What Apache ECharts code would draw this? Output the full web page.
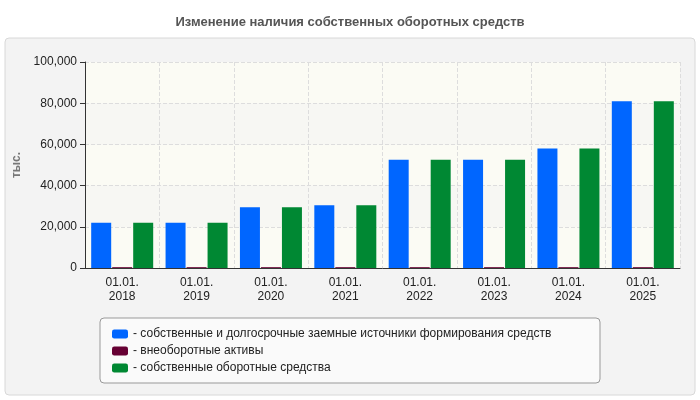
<!DOCTYPE html>
<html>
<head>
<meta charset="utf-8"/>
<title>Изменение наличия собственных оборотных средств</title>
<script src="https://cdn.jsdelivr.net/npm/echarts@6/dist/echarts.min.js"></script>
<style>
    body { margin: 0; background: #fff; }
    #main { width: 700px; height: 400px; }
</style>
</head>
<body>
<div id="main"></div>
<script>
    var categories = ['01.01.\n2018', '01.01.\n2019', '01.01.\n2020', '01.01.\n2021', '01.01.\n2022', '01.01.\n2023', '01.01.\n2024', '01.01.\n2025'];
    var ownLongTerm = [22000, 22000, 29500, 30500, 52500, 52500, 58000, 81000];
    var nonCurrent = [400, 400, 400, 400, 400, 400, 400, 400];
    var ownWorking = [22000, 22000, 29500, 30500, 52500, 52500, 58000, 81000];
    var seriesNames = [
        '- собственные и долгосрочные заемные источники формирования средств',
        '- внеоборотные активы',
        '- собственные оборотные средства'
    ];

    var chart = echarts.init(document.getElementById('main'));
    chart.setOption({
        animation: false,
        textStyle: { fontFamily: 'Liberation Sans, Arial, sans-serif' },
        graphic: [
            // серая подложка
            { type: 'rect', shape: { x: 5, y: 38, width: 690, height: 357, r: 4 },
              style: { fill: '#f3f3f3', stroke: '#d8d8d8' }, z: -10 },
            // рамка легенды
            { type: 'rect', shape: { x: 100, y: 318, width: 500, height: 65, r: 4 },
              style: { fill: '#fafafa', stroke: '#999' }, z: -5 }
        ],
        title: {
            text: 'Изменение наличия собственных оборотных средств',
            left: 'center', top: 11,
            textStyle: { fontSize: 13, fontWeight: 'bold', color: '#555' }
        },
        legend: {
            orient: 'vertical', left: 107, top: 323,
            itemWidth: 16, itemHeight: 9, itemGap: 5,
            icon: 'roundRect',
            textStyle: { fontSize: 12, color: '#222' },
            data: seriesNames
        },
        grid: { left: 85, right: 20, top: 62, bottom: 132 },
        xAxis: {
            type: 'category', data: categories,
            axisLine: { lineStyle: { color: '#333' } },
            axisTick: { alignWithLabel: false, lineStyle: { color: '#333' } },
            axisLabel: { color: '#222', fontSize: 12, lineHeight: 14, interval: 0 },
            splitLine: { show: true, interval: 0, lineStyle: { color: '#ddd', type: 'dashed' } }
        },
        yAxis: {
            type: 'value', min: 0, max: 100000, interval: 20000,
            name: 'тыс.', nameLocation: 'middle', nameGap: 62,
            nameTextStyle: { color: '#777', fontSize: 12, fontWeight: 'bold' },
            axisLine: { show: true, lineStyle: { color: '#333' } },
            axisTick: { show: true, lineStyle: { color: '#333' } },
            axisLabel: { color: '#222', fontSize: 12 },
            splitLine: { lineStyle: { color: '#ddd', type: 'dashed' } },
            splitArea: { show: true, areaStyle: { color: ['#fbfbf4', '#f7f7f3'] } }
        },
        series: [
            { name: seriesNames[0], type: 'bar', data: ownLongTerm, barWidth: 20, barGap: '5%',
              itemStyle: { color: '#0066ff' } },
            { name: seriesNames[1], type: 'bar', data: nonCurrent, barWidth: 20,
              itemStyle: { color: '#660033' } },
            { name: seriesNames[2], type: 'bar', data: ownWorking, barWidth: 20,
              itemStyle: { color: '#008833' } }
        ]
    });
</script>
</body>
</html>
